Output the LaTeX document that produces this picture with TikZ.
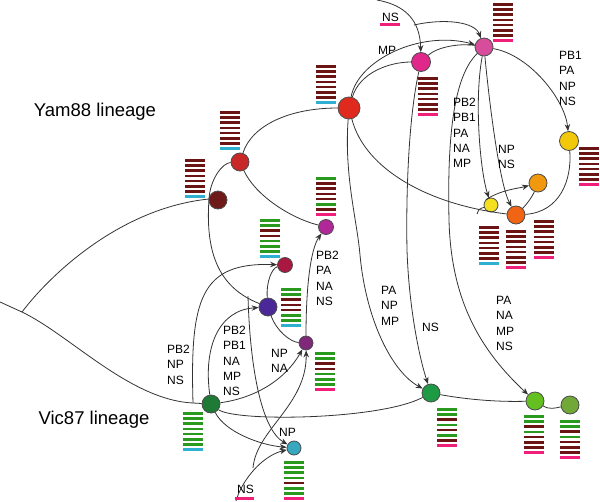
\documentclass[tikz,border=0pt]{standalone}
\usepackage{fontspec}
\setmainfont{Liberation Sans}
\usepackage{tikz}
\usetikzlibrary{arrows.meta}

\definecolor{sb}{HTML}{6B1414}
\definecolor{sg}{HTML}{2A9A1E}
\definecolor{sc}{HTML}{30B0D0}
\definecolor{sm}{HTML}{F0207A}
\definecolor{cy1}{HTML}{6E1A18}
\definecolor{cy2}{HTML}{C82828}
\definecolor{cy3}{HTML}{E02A1E}
\definecolor{cy4}{HTML}{E0288A}
\definecolor{cy5}{HTML}{D84C9C}
\definecolor{cy6}{HTML}{F2C80A}
\definecolor{cy7}{HTML}{F0980E}
\definecolor{cy8}{HTML}{F5E020}
\definecolor{cy9}{HTML}{F06414}
\definecolor{cy10}{HTML}{B02898}
\definecolor{cv1}{HTML}{A81840}
\definecolor{cv2}{HTML}{4A2898}
\definecolor{cv3}{HTML}{80287A}
\definecolor{cv4}{HTML}{1E7A34}
\definecolor{cv5}{HTML}{38A8C0}
\definecolor{cv6}{HTML}{1E9A44}
\definecolor{cv7}{HTML}{64C020}
\definecolor{cv8}{HTML}{72A838}

% eight segments, top to bottom
\newcommand{\segstack}[3]{%
  \foreach \col [count=\k from 0] in {#3}
    \fill[\col] (#1,{#2+5.2*\k}) rectangle ++(20,2.6);}

\begin{document}
\begin{tikzpicture}[x=1pt,y=-1pt,
  iso/.style={circle,draw=black!70,line width=0.8pt,inner sep=0pt,minimum size=#1},
  iso/.default=18pt,
  branch/.style={draw=black!80,line width=0.8pt},
  reass/.style={branch,-{Stealth[length=7pt,width=5.5pt]}},
  segs/.style={font=\fontsize{12}{15.3}\selectfont,align=left,inner sep=0pt,anchor=north west},
  lineage/.style={font=\fontsize{18.5}{22}\selectfont}
  ]
  \useasboundingbox (0,0) rectangle (600,501);

  % Yam88 side
  \node[iso,fill=cy1] (y1) at (218,200) {};
  \node[iso,fill=cy2] (y2) at (240,162) {};
  \node[iso=22pt,fill=cy3] (y3) at (349,108) {};
  \node[iso=19pt,fill=cy4] (y4) at (421,62) {};
  \node[iso,fill=cy5] (y5) at (484,47) {};
  \node[iso=19pt,fill=cy6] (y6) at (569,141) {};
  \node[iso,fill=cy7] (y7) at (538,183) {};
  \node[iso=14pt,fill=cy8] (y8) at (491,205) {};
  \node[iso,fill=cy9] (y9) at (516,215) {};
  \node[iso=15pt,fill=cy10] (y10) at (326,227) {};

  % Vic87 side
  \node[iso=15pt,fill=cv1] (v1) at (285,265) {};
  \node[iso,fill=cv2] (v2) at (268,307) {};
  \node[iso=14pt,fill=cv3] (v3) at (306,343) {};
  \node[iso,fill=cv4] (v4) at (211,404) {};
  \node[iso=14pt,fill=cv5] (v5) at (294,448) {};
  \node[iso,fill=cv6] (v6) at (431,393) {};
  \node[iso,fill=cv7] (v7) at (535,401) {};
  \node[iso,fill=cv8] (v8) at (570,405) {};

  \coordinate (l0) at (0,302);
  \coordinate (f) at (22,312);
  \coordinate (j1) at (209,199);
  \coordinate (j2) at (193,403);
  \coordinate (j3) at (414,25);
  \coordinate (j4) at (248,296);
  \coordinate (j5) at (253,468);
  \coordinate (j6) at (477,214);
  \coordinate (t0) at (377,0);
  \coordinate (b0) at (236,501);
  \coordinate (k1) at (449,220);
  \coordinate (k2) at (360,255);
  \coordinate (k3) at (407,250);

  \draw[branch] (l0) -- (f);
  \draw[branch] (f) .. controls (50,275) and (120,208) .. (j1);
  \draw[branch] (f) .. controls (70,335) and (130,400) .. (j2) -- (v4);
  \draw[branch] (j1) .. controls (210,180) and (222,163) .. (y2);
  \draw[branch] (j1) .. controls (205,255) and (220,288) .. (v2);
  \draw[branch] (y2) .. controls (252,125) and (290,108) .. (y3);
  \draw[branch] (y2) .. controls (255,195) and (290,218) .. (y10);
  \draw[branch] (y3) .. controls (360,72) and (390,62) .. (y4);
  \draw[reass] (y3) .. controls (358,60) and (420,30) .. (y5);
  \draw[branch] (y4) .. controls (437,47) and (460,43) .. (y5);
  \draw[reass] (t0) .. controls (405,5) and (420,20) .. (y4);
  \draw[reass] (j3) .. controls (445,18) and (475,22) .. (y5);
  \draw[reass] (y5) .. controls (530,55) and (565,100) .. (y6);
  \draw[reass] (y5) .. controls (455,75) and (447,130) .. (k1) .. controls (451,300) and (480,350) .. (v7);
  \draw[reass] (y5) .. controls (474,100) and (480,170) .. (y8);
  \draw[reass] (y5) .. controls (490,110) and (500,185) .. (y9);
  \draw[branch] (y3) .. controls (365,170) and (430,205) .. (y9);
  \draw[branch] (y8) .. controls (479,209) .. (j6);
  \draw[reass] (y8.north west) .. controls (500,190) and (520,188) .. (y7);
  \draw[branch] (y9) .. controls (528,203) and (533,195) .. (y7);
  \draw[branch] (y9) .. controls (560,212) and (572,180) .. (y6);
  \draw[reass] (y3) .. controls (344,175) and (357,220) .. (k2) .. controls (366,320) and (392,372) .. (v6);
  \draw[reass] (y4) .. controls (408,120) and (406,200) .. (k3) .. controls (409,310) and (420,360) .. (v6);

  \draw[reass] (j2) .. controls (190,300) and (200,262) .. (v1);
  \draw[reass] (v4) .. controls (203,345) and (220,310) .. (v2);
  \draw[reass] (v4) .. controls (255,398) and (285,380) .. (v3);
  \draw[branch] (v4) .. controls (235,422) and (380,420) .. (v6);
  \draw[reass] (v4) .. controls (225,432) and (260,445) .. (v5);
  \draw[reass] (j4) .. controls (250,370) and (262,430) .. (v5);
  \draw[reass] (b0) .. controls (242,480) and (262,456) .. (v5);
  \draw[reass] (j5) .. controls (256,430) and (307,405) .. (v3);
  \draw[branch] (v2) .. controls (266,282) and (272,268) .. (v1);
  \draw[branch] (v2) .. controls (276,330) and (290,342) .. (v3);
  \draw[reass] (v3) .. controls (306,290) and (310,250) .. (y10);
  \draw[branch] (v6) .. controls (470,400) and (500,402) .. (v7);
  \draw[branch] (v7) .. controls (550,410) and (555,408) .. (v8);

  % segment stacks
  \segstack{185}{159}{sb,sb,sb,sb,sb,sb,sb,sc}
  \segstack{220}{111}{sb,sb,sb,sb,sb,sb,sb,sc}
  \segstack{316}{65}{sb,sb,sb,sb,sb,sb,sb,sc}
  \segstack{418}{77}{sb,sb,sb,sb,sb,sb,sb,sm}
  \segstack{493}{3}{sb,sb,sb,sb,sb,sb,sb,sm}
  \segstack{579}{147}{sb,sb,sb,sb,sb,sb,sb,sm}
  \segstack{479}{226}{sb,sb,sb,sb,sb,sb,sb,sc}
  \segstack{506}{230}{sb,sb,sb,sb,sb,sb,sb,sm}
  \segstack{534}{220}{sb,sb,sb,sb,sb,sb,sb,sm}
  \segstack{316}{177}{sg,sb,sb,sb,sb,sg,sb,sm}
  \segstack{260}{219}{sg,sg,sb,sb,sg,sg,sg,sc}
  \segstack{281}{288}{sg,sg,sb,sb,sb,sg,sg,sc}
  \segstack{315}{352}{sg,sg,sb,sb,sg,sg,sg,sm}
  \segstack{183}{412}{sg,sg,sg,sg,sg,sg,sg,sc}
  \segstack{284}{461}{sg,sg,sg,sg,sb,sg,sg,sm}
  \segstack{437}{408}{sg,sg,sb,sg,sb,sg,sb,sm}
  \segstack{524}{415}{sg,sg,sb,sg,sb,sb,sb,sm}
  \segstack{560}{420}{sg,sg,sb,sg,sb,sb,sb,sm}
  \fill[sm] (380,23) rectangle ++(20,2.6);
  \fill[sm] (235,497) rectangle ++(19,2.6);

  % moved segments
  \node[segs] (m1) at (316,251) {PB2\\PA\\NA\\NS};
  \node[segs] (m2) at (167,345) {PB2\\NP\\NS};
  \node[segs] (m3) at (223,326) {PB2\\PB1\\NA\\MP\\NS};
  \node[segs] (m4) at (271,349) {NP\\NA};
  \node[segs] (m5) at (279,428) {NP};
  \node[segs] (m6) at (381,286) {PA\\NP\\MP};
  \node[segs] (m7) at (422,323) {NS};
  \node[segs] (m8) at (496,296) {PA\\NA\\MP\\NS};
  \node[segs] (m9) at (453,98) {PB2\\PB1\\PA\\NA\\MP};
  \node[segs] (m10) at (498,145) {NP\\NS};
  \node[segs] (m11) at (559,51) {PB1\\PA\\NP\\NS};
  \node[segs] (m12) at (378,46) {MP};
  \node[segs] (m13) at (382,13) {NS};
  \node[segs] (m14) at (237,485) {NS};

  \node[lineage] (yam) at (95,112) {Yam88 lineage};
  \node[lineage] (vic) at (94,420) {Vic87 lineage};
\end{tikzpicture}
\end{document}
